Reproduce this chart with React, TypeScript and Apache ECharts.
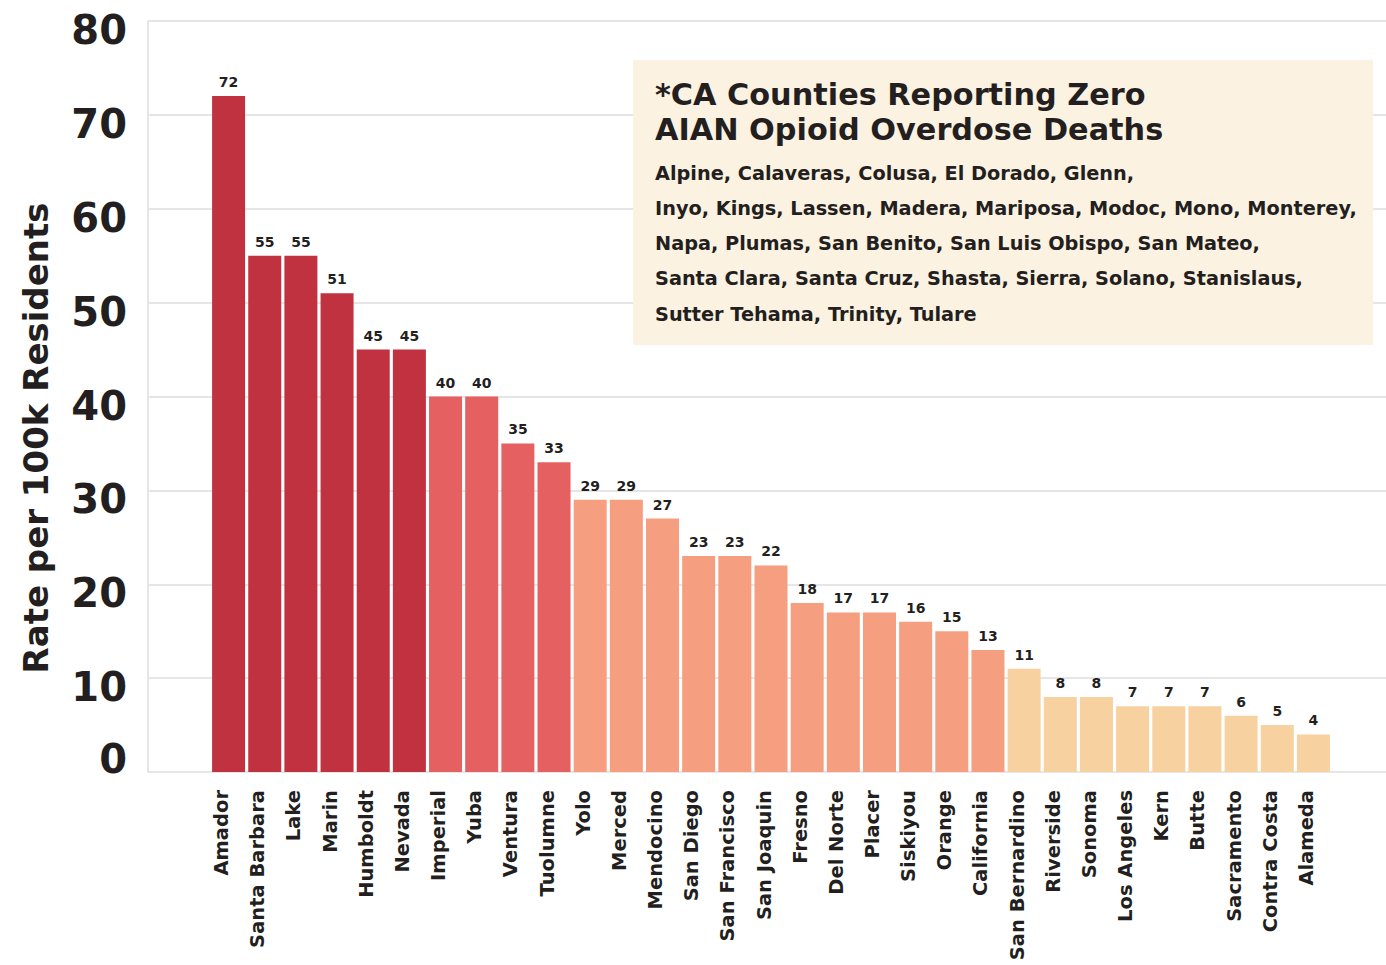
import React, { useEffect, useRef } from "react";
import * as echarts from "echarts";

const counties = [
  "Amador", "Santa Barbara", "Lake", "Marin", "Humboldt", "Nevada",
  "Imperial", "Yuba", "Ventura", "Tuolumne",
  "Yolo", "Merced", "Mendocino", "San Diego", "San Francisco", "San Joaquin",
  "Fresno", "Del Norte", "Placer", "Siskiyou", "Orange", "California",
  "San Bernardino", "Riverside", "Sonoma", "Los Angeles", "Kern", "Butte",
  "Sacramento", "Contra Costa", "Alameda",
];
const rates = [
  72, 55, 55, 51, 45, 45,
  40, 40, 35, 33,
  29, 29, 27, 23, 23, 22,
  18, 17, 17, 16, 15, 13,
  11, 8, 8, 7, 7, 7,
  6, 5, 4,
];
const colorGroup = [
  0, 0, 0, 0, 0, 0,
  1, 1, 1, 1,
  2, 2, 2, 2, 2, 2,
  2, 2, 2, 2, 2, 2,
  3, 3, 3, 3, 3, 3,
  3, 3, 3,
];
const palette = ["#C0323F", "#E56060", "#F59E80", "#F8D1A0"];
const yTicks = [0, 10, 20, 30, 40, 50, 60, 70, 80];
const yAxisTitle = "Rate per 100k Residents";
const noteTitle = ["*CA Counties Reporting Zero", "AIAN Opioid Overdose Deaths"];
const noteLines = [
  "Alpine, Calaveras, Colusa, El Dorado, Glenn,",
  "Inyo, Kings, Lassen, Madera, Mariposa, Modoc, Mono, Monterey,",
  "Napa, Plumas, San Benito, San Luis Obispo, San Mateo,",
  "Santa Clara, Santa Cruz, Shasta, Sierra, Solano, Stanislaus,",
  "Sutter Tehama, Trinity, Tulare",
];

const FONT = "'DejaVu Sans', sans-serif";

export default function App() {
  const ref = useRef<HTMLDivElement>(null);
  useEffect(() => {
    document.body.style.margin = "0";
    const chart = echarts.init(ref.current!, null, { renderer: "svg" });
    const yMin = yTicks[0];
    const yMax = yTicks[yTicks.length - 1];
    const tickStyle = {
      fontSize: 40,
      fontWeight: "bold",
      color: "#231F20",
      fontFamily: FONT,
    };
    const option = {
      animation: false,
      backgroundColor: "#ffffff",
      textStyle: { fontFamily: FONT },
      grid: [
        { left: 148, right: 0, top: 21, bottom: 193 },
        { left: 210.5, right: 54.5, top: 21, bottom: 193 },
      ],
      xAxis: [
        { type: "value", gridIndex: 0, min: 0, max: 1, show: false },
        {
          type: "category",
          gridIndex: 1,
          data: counties,
          axisLine: { show: false },
          axisTick: { show: false },
          axisLabel: {
            rotate: 90,
            interval: 0,
            margin: 18,
            fontSize: 19.5,
            fontWeight: "bold",
            color: "#231F20",
            fontFamily: FONT,
            verticalAlign: "bottom",
            lineHeight: 14,
          },
        },
      ],
      yAxis: [
        {
          type: "value",
          gridIndex: 0,
          min: yMin,
          max: yMax,
          interval: 10,
          axisLine: { show: true, lineStyle: { color: "#E6E6E6", width: 2 } },
          axisTick: { show: false },
          splitLine: { show: true, lineStyle: { color: "#E6E6E6", width: 2 } },
          axisLabel: {
            margin: 21,
            formatter: (v: number) => (v === 0 ? `{z|${v}}` : `{n|${v}}`),
            rich: {
              n: { ...tickStyle, padding: [18, 0, 0, 0] },
              z: { ...tickStyle, padding: [0, 0, 26, 0] },
            },
          },
        },
        {
          type: "value",
          gridIndex: 1,
          min: yMin,
          max: yMax,
          interval: 10,
          show: false,
        },
      ],
      series: [
        {
          type: "bar",
          xAxisIndex: 1,
          yAxisIndex: 1,
          barWidth: 33,
          data: rates.map((v, i) => ({
            value: v,
            itemStyle: { color: palette[colorGroup[i]] },
          })),
          label: {
            show: true,
            position: "top",
            distance: 7,
            fontSize: 14,
            fontWeight: "bold",
            color: "#231F20",
            fontFamily: FONT,
          },
        },
      ],
      graphic: [
        {
          type: "text",
          x: 36,
          y: 438,
          rotation: Math.PI / 2,
          style: {
            text: yAxisTitle,
            fontSize: 34,
            fontWeight: "bold",
            fill: "#231F20",
            fontFamily: FONT,
            align: "center",
            verticalAlign: "middle",
          },
        },
        {
          type: "rect",
          shape: { x: 633, y: 60, width: 740, height: 285 },
          style: { fill: "#FCF2E1" },
          z: 10,
        },
        ...noteTitle.map((t, i) => ({
          type: "text",
          x: 655,
          y: 94 + i * 35,
          z: 11,
          style: {
            text: t,
            fontSize: 30.3,
            fontWeight: "bold",
            fill: "#231F20",
            fontFamily: FONT,
            verticalAlign: "middle",
          },
        })),
        ...noteLines.map((t, i) => ({
          type: "text",
          x: 655,
          y: 173 + i * 35.3,
          z: 11,
          style: {
            text: t,
            fontSize: 19.3,
            fontWeight: "bold",
            fill: "#231F20",
            fontFamily: FONT,
            verticalAlign: "middle",
          },
        })),
      ],
    };
    chart.setOption(option as any);
    return () => chart.dispose();
  }, []);
  return <div ref={ref} style={{ width: 1386, height: 965 }} />;
}
